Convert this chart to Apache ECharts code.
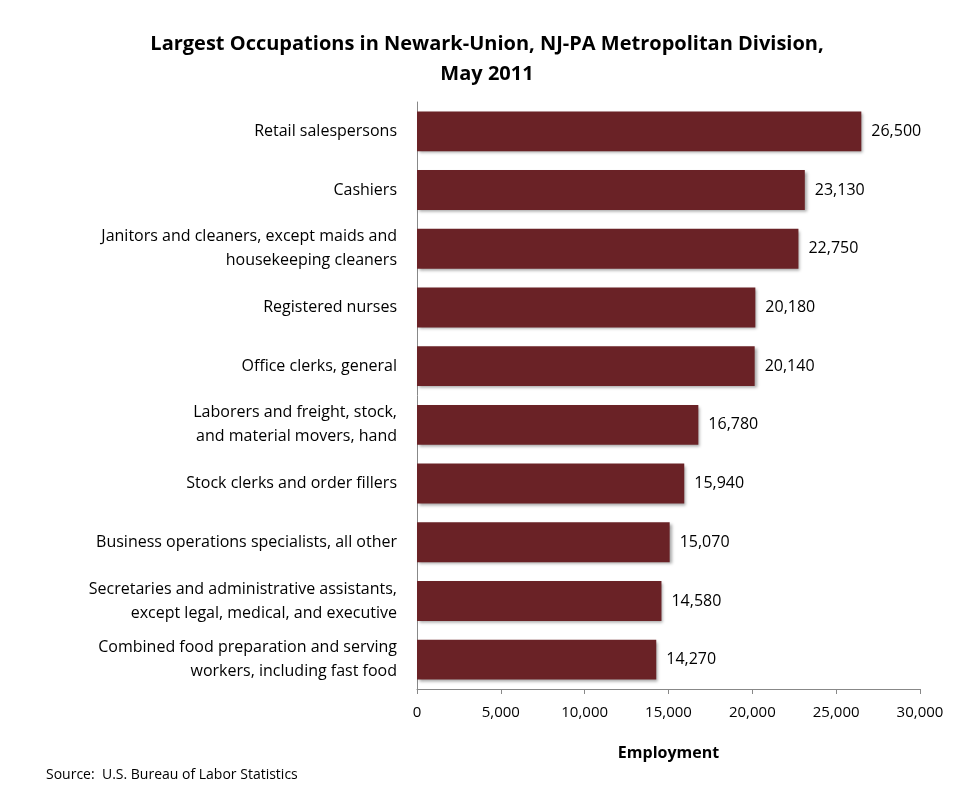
<!DOCTYPE html>
<html>
<head>
<meta charset="utf-8">
<script src="https://cdn.jsdelivr.net/npm/echarts@6/dist/echarts.min.js"></script>
<style>
  html, body { margin: 0; padding: 0; background: #fff; }
  #main { width: 960px; height: 793px; }
</style>
</head>
<body>
<div id="main"></div>
<script>
// occupations, top to bottom as in the picture
var occupations = [
    'Retail salespersons',
    'Cashiers',
    'Janitors and cleaners, except maids and\nhousekeeping cleaners',
    'Registered nurses',
    'Office clerks, general',
    'Laborers and freight, stock,\nand material movers, hand',
    'Stock clerks and order fillers',
    'Business operations specialists, all other',
    'Secretaries and administrative assistants,\nexcept legal, medical, and executive',
    'Combined food preparation and serving\nworkers, including fast food'
];
var employment = [26500, 23130, 22750, 20180, 20140, 16780, 15940, 15070, 14580, 14270];

var font = '"Open Sans", Lato, sans-serif';
var myChart = echarts.init(document.getElementById('main'));

var option = {
    animation: false,
    textStyle: { fontFamily: font },
    title: {
        text: 'Largest Occupations in Newark-Union, NJ-PA Metropolitan Division,\nMay 2011',
        left: 482,
        top: 24,
        textAlign: 'center',
        textStyle: { fontSize: 20, fontWeight: 'bold', color: '#000', lineHeight: 30, fontFamily: font }
    },
    graphic: [{
        type: 'text',
        left: 46,
        top: 768,
        style: { text: 'Source:  U.S. Bureau of Labor Statistics', fontSize: 14, fill: '#000', fontFamily: font }
    }],
    grid: { left: 417, right: 40, top: 102, bottom: 104 },
    xAxis: {
        type: 'value',
        min: 0,
        max: 30000,
        interval: 5000,
        name: 'Employment',
        nameLocation: 'middle',
        nameGap: 56,
        nameTextStyle: { fontSize: 16, fontWeight: 'bold', color: '#000' },
        axisLine: { show: true, lineStyle: { color: '#888' } },
        axisTick: { show: true, length: 5, lineStyle: { color: '#888' } },
        splitLine: { show: false },
        axisLabel: {
            fontSize: 15, color: '#000', margin: 16,
            formatter: function (v) { return v.toLocaleString('en-US'); }
        }
    },
    yAxis: {
        type: 'category',
        data: occupations,
        inverse: true,
        axisLine: { show: true, lineStyle: { color: '#888' } },
        axisTick: { show: false },
        axisLabel: { fontSize: 16, color: '#000', lineHeight: 24, margin: 20, align: 'right' }
    },
    series: [{
        type: 'bar',
        data: employment,
        barCategoryGap: '32%',
        itemStyle: {
            color: '#6a2226',
            shadowColor: 'rgba(0,0,0,0.35)',
            shadowBlur: 3,
            shadowOffsetX: 2,
            shadowOffsetY: 2
        },
        label: {
            show: true,
            position: 'right',
            distance: 10,
            fontSize: 16,
            color: '#000',
            formatter: function (p) { return p.value.toLocaleString('en-US'); }
        }
    }]
};

myChart.setOption(option);
</script>
</body>
</html>
